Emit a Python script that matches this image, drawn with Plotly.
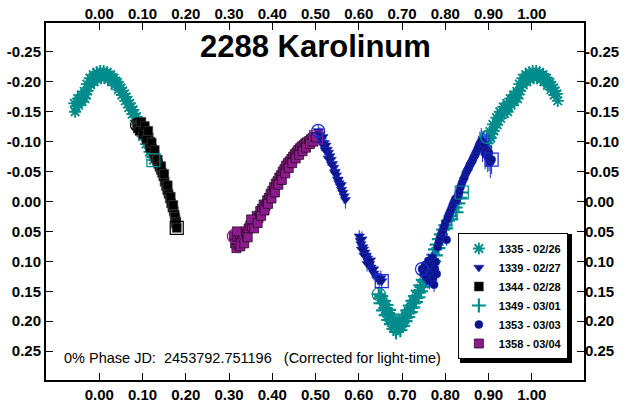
import plotly.graph_objects as go

# ---------------- data (phase, magnitude difference) ----------------
PHASE_MIN, PHASE_MAX = -0.06, 1.06

S1335_PHASE = [0.896,0.898,0.900,0.903,0.905,0.908,0.910,0.912,0.914,0.918,0.920,0.922,0.926,0.928,0.930,
               0.934,0.936,0.938,0.942,0.944,0.946,0.950,0.952,0.954,0.958,0.960,0.962,0.965,0.967,0.969,
               0.971,0.973,0.975,0.978,0.980,0.982,0.986,0.988,0.990,0.994,0.996,0.998,1.002,1.004,1.006,
               1.010,1.012,1.014,1.018,1.020,1.022,1.026,1.028,1.030,1.034,1.036,1.038,1.042,1.044,1.046,
               1.050,1.052,1.054,1.058,1.060,1.062,1.066,1.068,1.070,1.074,1.076,1.078,1.082,1.084,1.086,
               1.090,1.092,1.094,1.098,1.100,1.102,1.106,1.108,1.110,1.114,1.116,1.118,1.122,1.124,1.125]
S1335_MAG = [-0.108,-0.097,-0.103,-0.117,-0.106,-0.113,-0.129,-0.118,-0.124,-0.140,-0.128,-0.135,-0.150,-0.139,-0.146,
             -0.158,-0.147,-0.153,-0.164,-0.150,-0.159,-0.172,-0.161,-0.167,-0.178,-0.167,-0.173,-0.184,-0.172,-0.179,
             -0.196,-0.185,-0.191,-0.206,-0.195,-0.201,-0.212,-0.200,-0.207,-0.216,-0.204,-0.211,-0.218,-0.206,-0.213,
             -0.218,-0.206,-0.212,-0.216,-0.204,-0.211,-0.212,-0.200,-0.207,-0.206,-0.194,-0.201,-0.199,-0.187,-0.194,
             -0.190,-0.178,-0.185,-0.180,-0.168,-0.175,-0.169,-0.157,-0.164,-0.158,-0.146,-0.153,-0.147,-0.135,-0.142,
             -0.134,-0.122,-0.129,-0.121,-0.109,-0.116,-0.108,-0.096,-0.103,-0.095,-0.083,-0.090,-0.080,-0.075,-0.069]

S1339_PHASE = [0.506,0.510,0.513,0.517,0.520,0.524,0.527,0.530,0.533,0.536,0.539,0.542,0.545,0.548,0.551,0.554,
               0.557,0.560,0.563,0.566,0.569,0.515,0.522,0.529,0.537,0.544,0.552,0.559,
               0.601,0.603,0.605,0.607,0.609,0.611,0.614,0.617,0.620,0.622,0.625,0.628,0.631,0.635,0.639,0.643,
               0.606,0.612,0.619,0.627,0.634,0.647,0.651,0.653]
S1339_MAG = [-0.118,-0.112,-0.104,-0.108,-0.098,-0.094,-0.087,-0.082,-0.076,-0.070,-0.063,-0.057,-0.050,-0.044,-0.037,-0.031,
             -0.026,-0.020,-0.015,-0.009,-0.003,-0.096,-0.086,-0.072,-0.062,-0.048,-0.036,-0.028,
             0.058,0.065,0.071,0.063,0.076,0.080,0.085,0.090,0.095,0.100,0.104,0.110,0.115,0.120,0.124,0.128,
             0.080,0.090,0.104,0.098,0.113,0.132,0.128,0.133]
S1339_ERR = [0.010,0.012,0.010,0.014,0.011,0.012,0.010,0.013,0.011,0.012,0.014,0.010,0.012,0.011,0.013,0.012,
             0.011,0.014,0.012,0.013,0.015,0.012,0.011,0.013,0.010,0.012,0.014,0.011,
             0.010,0.012,0.011,0.013,0.010,0.012,0.011,0.013,0.012,0.010,0.012,0.011,0.014,0.012,0.013,0.011,
             0.012,0.010,0.013,0.011,0.012,0.012,0.013,0.012]

S1344_PHASE = [0.087,0.090,0.092,0.094,0.096,0.098,0.100,0.102,0.104,0.106,0.108,0.110,0.112,0.114,0.116,0.118,
               0.120,0.122,0.125,0.127,0.130,0.133,0.136,0.139,0.142,0.145,0.148,0.151,0.154,0.157,0.160,0.163,
               0.166,0.169,0.172,0.174,0.176,0.089,0.093,0.097,0.101,0.105,0.109,0.113,0.117,0.121,0.128,
               0.135,0.143,0.150,0.158,0.165,0.171,0.175,0.178,0.177,0.179]
S1344_MAG = [-0.128,-0.132,-0.125,-0.130,-0.122,-0.127,-0.119,-0.124,-0.115,-0.119,-0.110,-0.113,-0.104,-0.107,-0.097,-0.100,
             -0.091,-0.088,-0.083,-0.079,-0.073,-0.069,-0.063,-0.058,-0.053,-0.048,-0.042,-0.033,-0.026,-0.019,-0.013,-0.005,
             0.003,0.010,0.016,0.022,0.030,-0.122,-0.118,-0.133,-0.112,-0.126,-0.104,-0.118,-0.090,-0.098,-0.086,
             -0.070,-0.059,-0.046,-0.027,-0.008,0.006,0.026,0.034,0.037,0.044]

S1349_PHASE = [0.646,0.649,0.652,0.655,0.658,0.661,0.664,0.667,0.670,0.673,0.676,0.679,0.682,0.685,0.688,0.691,
               0.694,0.697,0.700,0.703,0.706,0.709,0.712,0.715,0.718,0.721,0.724,0.727,0.730,0.733,0.736,0.739,
               0.742,0.745,0.748,0.751,0.754,0.757,0.760,0.763,0.766,0.769,0.772,0.776,0.780,0.785,0.790,0.795,
               0.800,0.806,0.812,0.818,0.824,0.830,
               0.650,0.656,0.662,0.668,0.674,0.680,0.686,0.690,0.696,0.702,0.708,0.714,0.720,0.726,0.732,0.738,
               0.744,0.750,0.756,0.762,0.768,0.774,0.778,0.784,0.792,0.802,0.814,0.826,0.834,0.838]
S1349_MAG = [0.155,0.162,0.158,0.170,0.166,0.178,0.173,0.186,0.181,0.194,0.189,0.202,0.197,0.210,0.203,0.212,
             0.200,0.206,0.195,0.200,0.189,0.194,0.182,0.186,0.174,0.178,0.166,0.170,0.158,0.161,0.149,0.152,
             0.140,0.143,0.131,0.134,0.122,0.125,0.113,0.116,0.104,0.096,0.089,0.080,0.072,0.063,0.055,0.047,
             0.040,0.032,0.024,0.017,0.010,0.003,
             0.170,0.182,0.190,0.198,0.205,0.213,0.218,0.205,0.215,0.208,0.200,0.193,0.185,0.177,0.168,0.160,
             0.150,0.142,0.132,0.124,0.110,0.100,0.090,0.078,0.062,0.045,0.030,0.018,-0.006,-0.015]
S1349_ERR = [0.010,0.008,0.012,0.009,0.011,0.008,0.010,0.012,0.009,0.011,0.008,0.010,0.012,0.009,0.011,0.010,
             0.008,0.012,0.009,0.010,0.011,0.008,0.012,0.009,0.010,0.011,0.008,0.012,0.009,0.010,0.011,0.008,
             0.012,0.009,0.010,0.011,0.008,0.012,0.009,0.010,0.011,0.008,0.012,0.009,0.010,0.011,0.008,0.012,
             0.009,0.010,0.011,0.008,0.012,0.009,
             0.011,0.009,0.012,0.010,0.008,0.011,0.013,0.009,0.010,0.012,0.008,0.011,0.009,0.012,0.010,0.008,
             0.011,0.009,0.012,0.010,0.008,0.011,0.009,0.012,0.010,0.011,0.009,0.010,0.010,0.011]

S1353_PHASE = [0.746,0.750,0.753,0.756,0.758,0.761,0.763,0.765,0.768,0.770,0.772,0.774,0.776,0.778,0.780,0.782,
               0.785,0.788,0.791,0.794,0.797,0.800,0.803,0.805,0.808,0.811,0.814,0.817,0.820,0.823,0.826,0.829,
               0.832,0.835,0.838,0.841,0.844,0.847,0.850,0.853,0.856,0.859,0.862,0.865,0.868,0.871,0.874,0.877,
               0.880,0.883,0.886,0.889,0.892,0.895,0.898,0.901,0.904,0.907]
S1353_MAG = [0.113,0.121,0.106,0.127,0.112,0.099,0.133,0.118,0.106,0.094,0.127,0.139,0.113,0.101,0.121,0.076,
             0.068,0.060,0.054,0.049,0.042,0.036,0.064,0.029,0.022,0.017,0.012,0.006,0.001,-0.004,-0.002,-0.010,
             -0.016,-0.024,-0.030,-0.036,-0.040,-0.047,-0.051,-0.055,-0.060,-0.064,-0.068,-0.073,-0.077,-0.082,-0.087,-0.092,
             -0.097,-0.101,-0.090,-0.096,-0.080,-0.086,-0.074,-0.081,-0.066,-0.070]
S1353_ERR = [0.010,0.012,0.011,0.013,0.010,0.012,0.014,0.011,0.012,0.010,0.013,0.012,0.011,0.014,0.012,0.010,
             0.011,0.012,0.010,0.013,0.011,0.012,0.010,0.011,0.013,0.012,0.010,0.011,0.012,0.014,0.011,0.012,
             0.013,0.011,0.012,0.014,0.013,0.012,0.015,0.013,0.014,0.012,0.016,0.014,0.015,0.017,0.016,0.018,
             0.020,0.022,0.024,0.021,0.026,0.028,0.025,0.030,0.027,0.024]

S1358_PHASE = [0.311,0.314,0.317,0.319,0.322,0.325,0.328,0.331,0.334,0.338,0.341,0.345,0.349,0.353,0.356,0.360,
               0.364,0.368,0.372,0.376,0.380,0.384,0.388,0.392,0.396,0.400,0.404,0.408,0.412,0.416,0.420,0.424,
               0.428,0.432,0.436,0.440,0.444,0.448,0.452,0.456,0.460,0.464,0.468,0.472,0.476,0.480,0.485,0.489,
               0.493,0.318,0.326,0.335,0.343,0.351,0.358,0.366,0.374,0.382,0.390,0.398,0.406,0.414,0.422,0.430,
               0.438,0.446,0.454,0.462,0.470,0.478,0.487,0.495,0.497,0.501]
S1358_MAG = [0.058,0.070,0.078,0.064,0.072,0.060,0.068,0.055,0.062,0.050,0.055,0.045,0.040,0.042,0.032,0.035,
             0.024,0.028,0.016,0.012,0.005,0.008,-0.002,-0.006,-0.013,-0.018,-0.024,-0.030,-0.034,-0.040,-0.044,-0.050,
             -0.054,-0.060,-0.064,-0.067,-0.071,-0.075,-0.079,-0.082,-0.086,-0.089,-0.092,-0.094,-0.097,-0.099,-0.101,-0.104,
             -0.106,0.050,0.075,0.070,0.060,0.030,0.045,0.036,0.024,0.015,0.004,-0.005,-0.015,-0.028,-0.036,-0.047,
             -0.056,-0.064,-0.072,-0.078,-0.084,-0.090,-0.096,-0.100,-0.108,-0.107]

X_TICKS = [0.0, 0.1, 0.2, 0.3, 0.4, 0.5, 0.6, 0.7, 0.8, 0.9, 1.0]
X_LABELS = ["0.00", "0.10", "0.20", "0.30", "0.40", "0.50", "0.60", "0.70", "0.80", "0.90", "1.00"]
Y_TICKS = [-0.25, -0.20, -0.15, -0.10, -0.05, 0.0, 0.05, 0.10, 0.15, 0.20, 0.25]
Y_LABELS = ["-0.25", "-0.20", "-0.15", "-0.10", "-0.05", "0.00", "0.05", "0.10", "0.15", "0.20", "0.25"]

TITLE = "2288 Karolinum"
NOTE = "0% Phase JD:  2453792.751196   (Corrected for light-time)"

TEAL = "#008c8c"
NAVY = "#0c1486"
PURPLE = "#8c1c8c"
BLACK = "#000000"
FONT = "Liberation Sans, Arial, sans-serif"


def fold(phases, mags, errs=None):
    xs, ys, es = [], [], []
    for i, (p, m) in enumerate(zip(phases, mags)):
        for q in (p - 1.0, p, p + 1.0):
            if PHASE_MIN <= q <= PHASE_MAX:
                xs.append(q)
                ys.append(m)
                es.append(errs[i] if errs else 0)
    return xs, ys, es


series = [
    # name, phase, mag, err, symbol, size, color, line color, line width, legend rank
    ("1335 - 02/26", S1335_PHASE, S1335_MAG, None, "asterisk", 10, TEAL, TEAL, 1.8, 1),
    ("1349 - 03/01", S1349_PHASE, S1349_MAG, S1349_ERR, "cross-thin", 10, TEAL, TEAL, 2.2, 4),
    ("1358 - 03/04", S1358_PHASE, S1358_MAG, None, "square", 9, PURPLE, "#2a0a2a", 0.8, 6),
    ("1344 - 02/28", S1344_PHASE, S1344_MAG, None, "square", 9, BLACK, "#444444", 0.6, 3),
    ("1339 - 02/27", S1339_PHASE, S1339_MAG, S1339_ERR, "triangle-down", 9, NAVY, "#1a2ad0", 0.6, 2),
    ("1353 - 03/03", S1353_PHASE, S1353_MAG, S1353_ERR, "circle", 8, NAVY, "#1a2ad0", 0.6, 5),
]

fig = go.Figure()
for name, ph, mg, er, sym, size, col, lcol, lw, rank in series:
    xs, ys, es = fold(ph, mg, er)
    tr = dict(
        x=xs, y=ys, mode="markers", name=name, legendrank=rank,
        marker=dict(symbol=sym, size=size, color=col, line=dict(color=lcol, width=lw)),
    )
    if er:
        tr["error_y"] = dict(type="data", array=es, visible=True, color=lcol if col == NAVY else col,
                             thickness=1, width=0)
    fig.add_trace(go.Scatter(**tr))

# start (open circle) / end (open square) markers of each session
for name, ph, mg, er, sym, size, col, lcol, lw, rank in series:
    hcol = "#1a2ad0" if col == NAVY else col
    for idx, hsym in ((0, "circle-open"), (-1, "square-open")):
        xs, ys, _ = fold([ph[idx]], [mg[idx]])
        fig.add_trace(go.Scatter(
            x=xs, y=ys, mode="markers", showlegend=False, hoverinfo="skip",
            xaxis="x2", yaxis="y2",
            marker=dict(symbol=hsym, size=13, color=hcol, line=dict(color=hcol, width=1.2)),
        ))

X_RANGE = [-0.1233, 1.1206]
Y_RANGE = [0.2983, -0.2983]
tickfont = dict(family=FONT, size=15, color="black", weight="bold")
common_x = dict(range=X_RANGE, tickvals=X_TICKS, ticktext=X_LABELS, ticks="inside", ticklen=7,
                tickwidth=1, tickcolor="black", showgrid=False, zeroline=False, tickfont=tickfont,
                automargin=False)
common_y = dict(range=Y_RANGE, tickvals=Y_TICKS, ticktext=Y_LABELS, ticks="inside", ticklen=7,
                tickwidth=1, tickcolor="black", showgrid=False, zeroline=False, tickfont=tickfont,
                automargin=False)

# legend drop shadow (paper coordinates), offset 3 px right/down from the legend box
SHADOW = dict(x0=(460 - 46) / 538, x1=(572 - 46) / 538, y0=(380 - 363) / 357, y1=(380 - 234) / 357)

fig.update_layout(
    width=629, height=406,
    margin=dict(l=46, r=45, t=23, b=26, autoexpand=False),
    paper_bgcolor="white", plot_bgcolor="white",
    xaxis=dict(**common_x, showline=True, linewidth=2, linecolor="black", mirror=True, side="bottom"),
    yaxis=dict(**common_y, showline=True, linewidth=2, linecolor="black", mirror=True, side="left"),
    xaxis2=dict(**common_x, overlaying="x", side="top", matches="x", showline=False),
    yaxis2=dict(**common_y, overlaying="y", side="right", matches="y", showline=False),
    showlegend=True,
    legend=dict(x=0.970, xanchor="right", y=0.0588, yanchor="bottom",
                bgcolor="white", bordercolor="black", borderwidth=1,
                font=dict(family=FONT, size=11, color="black", weight="bold"),
                tracegroupgap=0, itemsizing="trace"),
    shapes=[dict(type="rect", xref="paper", yref="paper", layer="above",
                 fillcolor="black", line=dict(width=0), **SHADOW)],
    annotations=[
        dict(text=TITLE, xref="paper", yref="paper", x=0.5, y=0.935, xanchor="center", yanchor="middle",
             showarrow=False, font=dict(family=FONT, size=31, color="black", weight="bold")),
        dict(text=NOTE, xref="paper", yref="paper", x=0.030, y=0.0616, xanchor="left", yanchor="middle",
             showarrow=False, font=dict(family=FONT, size=14.5, color="black")),
    ],
)

fig.write_html("out.html")
